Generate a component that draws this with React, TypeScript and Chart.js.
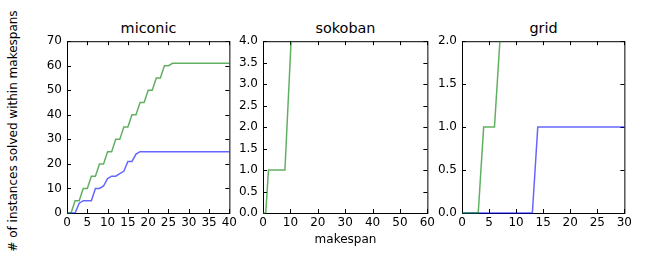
import React, { useEffect, useRef } from "react";
import { Chart, registerables } from "chart.js";

Chart.register(...registerables);

// ---- data ----
const panelTitles = ["miconic", "sokoban", "grid"];

const miconicMakespans = [0, 1, 2, 3, 4, 5, 6, 7, 8, 9, 10, 11, 12, 13, 14, 15, 16, 17, 18, 19, 20, 21, 22, 23, 24, 25, 26, 27, 28, 29, 30, 31, 32, 33, 34, 35, 36, 37, 38, 39, 40];
const miconicGreen = [0, 0, 5, 5, 10, 10, 15, 15, 20, 20, 25, 25, 30, 30, 35, 35, 40, 40, 45, 45, 50, 50, 55, 55, 60, 60, 61, 61, 61, 61, 61, 61, 61, 61, 61, 61, 61, 61, 61, 61, 61];
const miconicBlue = [0, 0, 0, 4, 5, 5, 5, 10, 10, 11, 14, 15, 15, 16, 17, 21, 21, 24, 25, 25, 25, 25, 25, 25, 25, 25, 25, 25, 25, 25, 25, 25, 25, 25, 25, 25, 25, 25, 25, 25, 25];

const sokobanMakespans = [0, 1, 2, 8, 11, 12];
const sokobanGreen = [0, 0, 1, 1, 5, 7];

const gridMakespans = [0, 1, 2, 3, 4, 5, 6, 7, 8, 9, 10, 11, 12, 13, 14, 15, 16, 17, 18, 19, 20, 21, 22, 23, 24, 25, 26, 27, 28, 29, 30];
const gridGreenMakespans = [0, 1, 2, 3, 4, 5, 6, 7, 8];
const gridGreen = [0, 0, 0, 0, 1, 1, 1, 2, 3];
const gridBlue = [0, 0, 0, 0, 0, 0, 0, 0, 0, 0, 0, 0, 0, 0, 1, 1, 1, 1, 1, 1, 1, 1, 1, 1, 1, 1, 1, 1, 1, 1, 1];

const xMaxes = [40, 60, 30];
const xSteps = [5, 10, 5];
const yMaxes = [70, 4, 2];
const ySteps = [10, 0.5, 0.5];
const yDecimals = [0, 1, 1];

const yAxisLabel = "# of instances solved within makespans";
const xAxisLabel = "makespan";

// ---- layout ----
const PLOT_LEFT = [67, 263, 462];
const PLOT_RIGHT = [230, 428, 625];
const PLOT_TOP = 39;
const PLOT_BOTTOM = 213;
const Y_AXIS_W = 45;
const X_AXIS_H = 20;
const PAD_TOP = 10;
const PAD_RIGHT = 10;

const GREEN = "rgba(0,128,0,0.62)";
const BLUE = "rgba(0,0,255,0.6)";
const FONT = "'DejaVu Sans', sans-serif";

const pts = (xs: number[], ys: number[]) => xs.map((x, i) => ({ x, y: ys[i] }));

const panelData = [
  [
    { data: pts(miconicMakespans, miconicGreen), color: GREEN },
    { data: pts(miconicMakespans, miconicBlue), color: BLUE },
  ],
  [{ data: pts(sokobanMakespans, sokobanGreen), color: GREEN }],
  [
    { data: pts(gridGreenMakespans, gridGreen), color: GREEN },
    { data: pts(gridMakespans, gridBlue), color: BLUE },
  ],
];

const framePlugin = {
  id: "frameTicks",
  beforeDatasetsDraw(chart: any) {
    const { ctx, chartArea } = chart;
    const { left, right, top, bottom } = chartArea;
    ctx.save();
    ctx.strokeStyle = "#000";
    ctx.lineWidth = 1;
    ctx.strokeRect(left + 0.5, top + 0.5, right - left, bottom - top);
    const xs = chart.scales.x;
    const ys = chart.scales.y;
    const L = 4;
    ctx.beginPath();
    xs.ticks.forEach((t: any) => {
      const p = Math.round(xs.getPixelForValue(t.value)) + 0.5;
      ctx.moveTo(p, bottom);
      ctx.lineTo(p, bottom - L);
      ctx.moveTo(p, top);
      ctx.lineTo(p, top + L);
    });
    ys.ticks.forEach((t: any) => {
      const p = Math.round(ys.getPixelForValue(t.value)) + 0.5;
      ctx.moveTo(left, p);
      ctx.lineTo(left + L, p);
      ctx.moveTo(right, p);
      ctx.lineTo(right - L, p);
    });
    ctx.stroke();
    ctx.restore();
  },
};

function Panel({ idx }: { idx: number }) {
  const ref = useRef<HTMLCanvasElement>(null);
  const w = PLOT_RIGHT[idx] - PLOT_LEFT[idx] + Y_AXIS_W + PAD_RIGHT;
  const h = PLOT_BOTTOM - PLOT_TOP + PAD_TOP + X_AXIS_H;
  useEffect(() => {
    if (!ref.current) return;
    const chart = new Chart(ref.current, {
      type: "line",
      data: {
        datasets: panelData[idx].map((d) => ({
          data: d.data,
          borderColor: d.color,
          backgroundColor: d.color,
          borderWidth: 1.5,
          pointRadius: 0,
          tension: 0,
          fill: false,
          clip: { left: 1, top: 0, right: 1, bottom: 1 },
        })),
      },
      options: {
        animation: false,
        responsive: false,
        maintainAspectRatio: false,
        layout: { padding: { left: 0, top: PAD_TOP, right: PAD_RIGHT, bottom: 0 } },
        plugins: { legend: { display: false }, tooltip: { enabled: false }, title: { display: false } },
        scales: {
          x: {
            type: "linear",
            min: 0,
            max: xMaxes[idx],
            grid: { display: false, drawTicks: false, tickLength: 0 },
            border: { display: false },
            ticks: {
              stepSize: xSteps[idx],
              autoSkip: false,
              maxRotation: 0,
              padding: 3,
              color: "#000",
              font: { family: FONT, size: 12 },
              callback: (v: any) => String(v),
            },
            afterFit: (s: any) => {
              s.height = X_AXIS_H;
            },
          },
          y: {
            type: "linear",
            min: 0,
            max: yMaxes[idx],
            grid: { display: false, drawTicks: false, tickLength: 0 },
            border: { display: false },
            ticks: {
              stepSize: ySteps[idx],
              autoSkip: false,
              padding: 5,
              color: "#000",
              font: { family: FONT, size: 12 },
              callback: (v: any) => Number(v).toFixed(yDecimals[idx]),
            },
            afterFit: (s: any) => {
              s.width = Y_AXIS_W;
            },
          },
        },
      },
      plugins: [framePlugin],
    } as any);
    return () => chart.destroy();
  }, [idx]);
  return (
    <canvas
      ref={ref}
      width={w}
      height={h}
      style={{
        position: "absolute",
        left: PLOT_LEFT[idx] - Y_AXIS_W,
        top: PLOT_TOP - PAD_TOP,
        width: w,
        height: h,
      }}
    />
  );
}

export default function App() {
  return (
    <div
      style={{
        position: "absolute",
        left: 0,
        top: 0,
        width: 647,
        height: 259,
        background: "#fff",
        fontFamily: FONT,
        color: "#000",
      }}
    >
      {panelTitles.map((t, i) => (
        <div
          key={t}
          style={{
            position: "absolute",
            left: PLOT_LEFT[i],
            width: PLOT_RIGHT[i] - PLOT_LEFT[i],
            top: 21,
            textAlign: "center",
            fontSize: 14.4,
            lineHeight: 1,
            whiteSpace: "nowrap",
          }}
        >
          {t}
        </div>
      ))}
      {[0, 1, 2].map((i) => (
        <Panel key={i} idx={i} />
      ))}
      <div
        style={{
          position: "absolute",
          left: PLOT_LEFT[1],
          width: PLOT_RIGHT[1] - PLOT_LEFT[1],
          top: 233,
          textAlign: "center",
          fontSize: 12,
          lineHeight: 1,
          whiteSpace: "nowrap",
        }}
      >
        {xAxisLabel}
      </div>
      <div
        style={{
          position: "absolute",
          left: 13 - 150,
          top: 131 - 7,
          width: 300,
          height: 14,
          textAlign: "center",
          fontSize: 12,
          lineHeight: "14px",
          whiteSpace: "nowrap",
          transform: "rotate(-90deg)",
          transformOrigin: "50% 50%",
        }}
      >
        {yAxisLabel}
      </div>
    </div>
  );
}
